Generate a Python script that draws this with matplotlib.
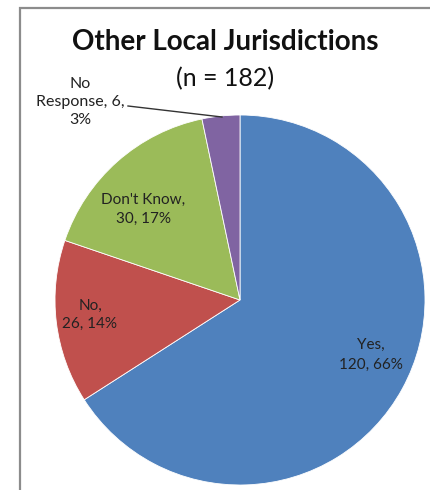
import matplotlib
matplotlib.use("Agg")
import matplotlib.pyplot as plt
from matplotlib.patches import Rectangle

categories = ["Yes", "No", "Don't Know", "No Response"]
counts = [120, 26, 30, 6]
percents = ["66%", "14%", "17%", "3%"]
colors = ["#4F81BD", "#C0504D", "#9BBB59", "#8064A2"]
title = "Other Local Jurisdictions"
subtitle = "(n = 182)"

plt.rcParams['font.family'] = ['Lato', 'DejaVu Sans']

W, H = 430, 490
fig = plt.figure(figsize=(W / 100, H / 100), dpi=100)
fig.patch.set_facecolor("white")
ax = fig.add_axes([0, 0, 1, 1])

cx, cy, r = 240, H - 300, 185
ax.pie(counts, colors=colors, startangle=90, counterclock=False,
       center=(cx, cy), radius=r,
       wedgeprops=dict(edgecolor="white", linewidth=0.6))
ax.set_xlim(0, W)
ax.set_ylim(0, H)
ax.set_aspect("equal")
ax.axis("off")

# outer frame (chart area border)
fig.patches.append(Rectangle((20 / W, 0 - 0.05), 1.2, (H - 8) / H + 0.05,
                             transform=fig.transFigure, fill=False,
                             edgecolor="#8c8c8c", linewidth=1.6))

ax.text(225, H - 42, title, ha="center", va="center", fontsize=20,
        fontweight="bold", color="#111111")
ax.text(225, H - 79, subtitle, ha="center", va="center", fontsize=18,
        color="#111111")

tc = "#222222"
fs = 11
ax.text(371, H - 355, f"{categories[0]},\n{counts[0]}, {percents[0]}",
        ha="center", va="center", fontsize=fs, color=tc, linespacing=1.5)
ax.text(90, H - 315, f"{categories[1]},\n{counts[1]}, {percents[1]}",
        ha="center", va="center", fontsize=fs, color=tc, linespacing=1.4)
ax.text(143, H - 209, f"{categories[2]},\n{counts[2]}, {percents[2]}",
        ha="center", va="center", fontsize=fs, color=tc, linespacing=1.45)
ax.text(80, H - 102, "No\nResponse, " + f"{counts[3]},\n{percents[3]}",
        ha="center", va="center", fontsize=11.5, color=tc, linespacing=1.35)
ax.plot([128, 222], [H - 106, H - 117], color="#333333", linewidth=1)

fig.savefig("out.png", dpi=100, facecolor="white")
